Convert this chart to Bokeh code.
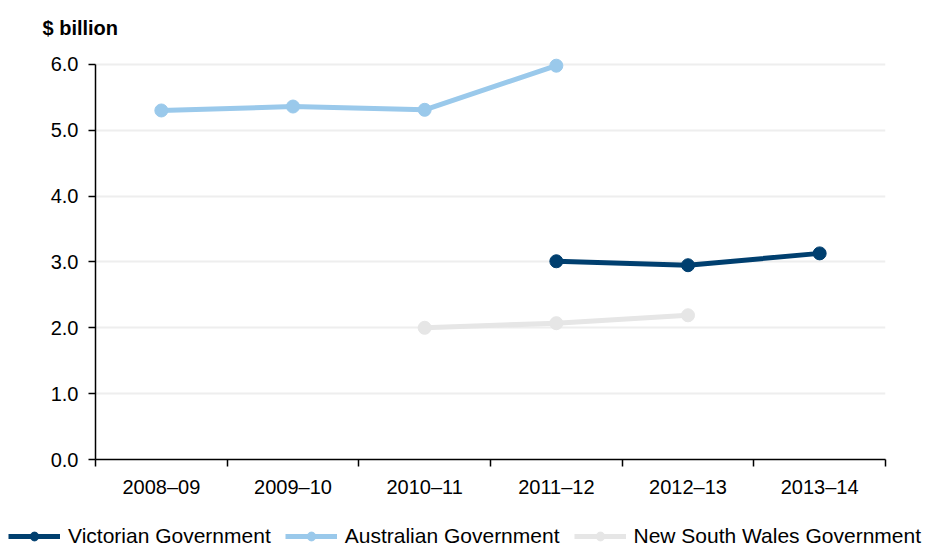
import numpy as np
from bokeh.plotting import figure
from bokeh.layouts import column
from bokeh.models import Range1d, FixedTicker, Legend, LegendItem
from bokeh.embed import file_html
from bokeh.resources import INLINE

years = ["2008\u201309", "2009\u201310", "2010\u201311", "2011\u201312", "2012\u201313", "2013\u201314"]
victorian = [None, None, None, 3.01, 2.95, 3.13]
australian = [5.30, 5.36, 5.31, 5.98, None, None]
nsw = [None, None, 2.00, 2.07, 2.19, None]
y_ticks = [0, 1, 2, 3, 4, 5, 6]

series = [
    ("Victorian Government", victorian, "#003f6f"),
    ("Australian Government", australian, "#9ac9eb"),
    ("New South Wales Government", nsw, "#e6e6e6"),
]

FONT = "Liberation Sans"
centers = [i + 0.5 for i in range(len(years))]
bounds = list(range(len(years) + 1))

p = figure(width=931, height=508, output_backend="svg", toolbar_location=None,
           x_range=Range1d(0, len(years)), y_range=Range1d(0, 6.15),
           min_border_left=95, min_border_right=46, min_border_top=54, min_border_bottom=49)
p.frame_align = False
p.outline_line_color = None
p.background_fill_color = "white"

for name, vals, color in series:
    ys = [np.nan if v is None else v for v in vals]
    p.line(centers, ys, line_color=color, line_width=5)
    p.scatter(centers, ys, size=13, fill_color=color, line_color=color)

# axes
xa = p.xaxis[0]
xa.ticker = FixedTicker(ticks=centers, minor_ticks=bounds)
xa.major_label_overrides = {c: y for c, y in zip(centers, years)}
xa.major_tick_out = 0
xa.major_tick_in = 0
xa.minor_tick_out = 7
xa.minor_tick_in = 0
xa.minor_tick_line_color = "black"
xa.minor_tick_line_width = 1.5
xa.axis_line_color = "black"
xa.axis_line_width = 1.5
xa.major_label_text_font = FONT
xa.major_label_text_font_size = "20px"
xa.major_label_text_color = "black"
xa.major_label_standoff = 9

ya = p.yaxis[0]
ya.ticker = FixedTicker(ticks=y_ticks)
ya.bounds = (0, 6)
ya.formatter.use_scientific = False
ya.major_label_overrides = {t: f"{t:.1f}" for t in y_ticks}
ya.major_tick_out = 7
ya.major_tick_in = 0
ya.minor_tick_out = 0
ya.minor_tick_in = 0
ya.major_tick_line_color = "black"
ya.major_tick_line_width = 1.5
ya.axis_line_color = "black"
ya.axis_line_width = 1.5
ya.major_label_text_font = FONT
ya.major_label_text_font_size = "20px"
ya.major_label_text_color = "black"
ya.major_label_standoff = 10

p.xgrid.grid_line_color = None
p.ygrid.ticker = FixedTicker(ticks=y_ticks)
p.ygrid.grid_line_color = "#eeeeee"
p.ygrid.grid_line_width = 2

p.title.text = "$ billion"
p.title.text_font = FONT
p.title.text_font_style = "bold"
p.title.text_font_size = "20px"
p.title.text_color = "black"
p.title.align = "left"
p.title.vertical_align = "top"
p.title.offset = -53
p.title.standoff = 28

# legend strip below the chart (series drawn out of view, only their legend shows)
lg = figure(width=931, height=40, output_backend="svg", toolbar_location=None,
            x_range=Range1d(0, 1), y_range=Range1d(-2, -1),
            x_axis_type=None, y_axis_type=None,
            min_border_left=0, min_border_right=0, min_border_top=0, min_border_bottom=0)
lg.frame_align = False
lg.outline_line_color = None
lg.xgrid.grid_line_color = None
lg.ygrid.grid_line_color = None
items = []
for name, vals, color in series:
    ys = [np.nan if v is None else v for v in vals]
    lr = lg.line(centers, ys, line_color=color, line_width=5)
    sr = lg.scatter(centers, ys, size=10, fill_color=color, line_color=color)
    items.append(LegendItem(label=name, renderers=[lr, sr]))

legend = Legend(items=items, orientation="horizontal", location=(8, 0),
                label_text_font=FONT, label_text_font_size="21px", label_text_color="black",
                glyph_width=52, glyph_height=22, label_standoff=8, spacing=14,
                padding=0, margin=0, border_line_color=None,
                background_fill_alpha=0)
lg.add_layout(legend, "center")

layout = column(p, lg, spacing=0)
open("out.html", "w").write(file_html(layout, INLINE))
